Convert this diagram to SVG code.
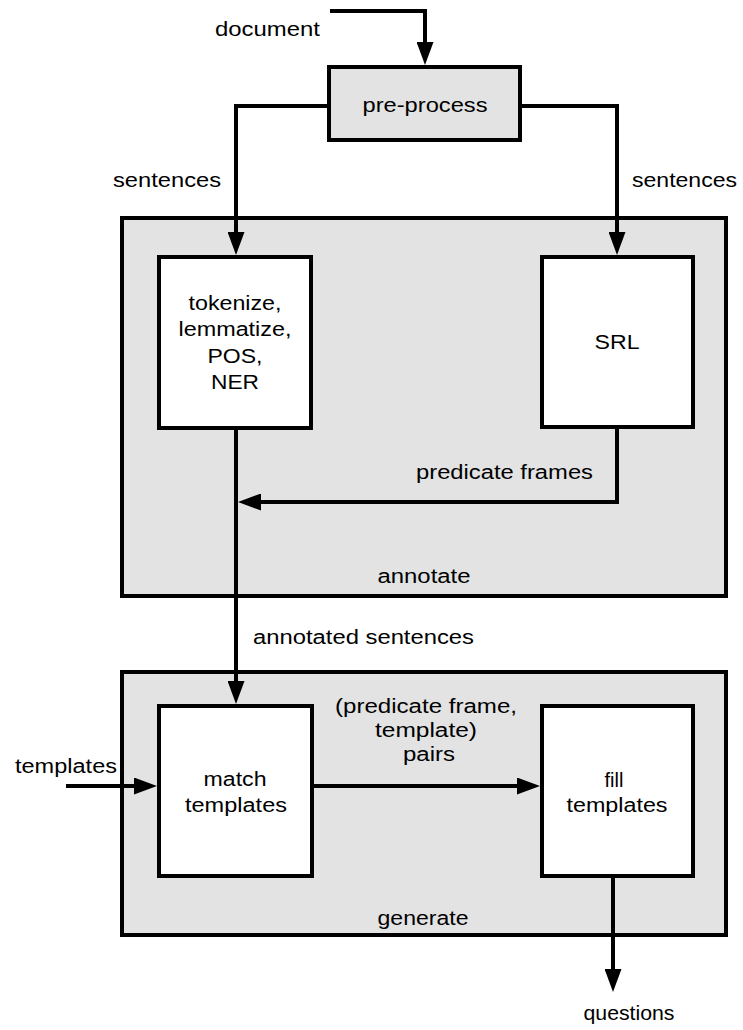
<svg xmlns="http://www.w3.org/2000/svg" width="743" height="1030" viewBox="0 0 743 1030">
<style>
  .grp { fill: #e3e3e3; stroke: #000; stroke-width: 4; }
  .box { fill: #ffffff; stroke: #000; stroke-width: 4; }
  .gbox { fill: #e3e3e3; stroke: #000; stroke-width: 4; }
  .conn { fill: none; stroke: #000; stroke-width: 4; }
  text { font-family: "Liberation Sans", Arial, sans-serif; font-size: 20px; fill: #000; font-variant-ligatures: none; }
  .c { text-anchor: middle; }
</style>
<defs>
  <marker id="arr" markerUnits="userSpaceOnUse" viewBox="0 0 23 17" markerWidth="23" markerHeight="17" refX="13" refY="8.5" orient="auto">
    <path d="M0,0 L23,8.5 L0,17 z" fill="#000"/>
  </marker>
</defs>
<rect width="743" height="1030" fill="#ffffff"/>

<g id="annotate">
  <rect class="grp" x="122" y="218" width="604" height="378"/>
  <text class="c" x="424" y="583" textLength="93" lengthAdjust="spacingAndGlyphs">annotate</text>
</g>
<g id="generate">
  <rect class="grp" x="122" y="672" width="604" height="263"/>
  <text class="c" x="423" y="925" textLength="91" lengthAdjust="spacingAndGlyphs">generate</text>
</g>

<g id="connectors">
  <path class="conn" d="M330,11 H425 V55" marker-end="url(#arr)"/>
  <path class="conn" d="M329,106 H236 V245" marker-end="url(#arr)"/>
  <path class="conn" d="M520,106 H617 V245" marker-end="url(#arr)"/>
  <path class="conn" d="M617,427 V504"/>
  <path class="conn" d="M615,502 H248" marker-end="url(#arr)"/>
  <path class="conn" d="M236,428 V694" marker-end="url(#arr)"/>
  <path class="conn" d="M66,786 H147" marker-end="url(#arr)"/>
  <path class="conn" d="M312,786 H530" marker-end="url(#arr)"/>
  <path class="conn" d="M613,876 V982" marker-end="url(#arr)"/>
</g>

<g id="pre-process">
  <rect class="gbox" x="329" y="67" width="191" height="73"/>
  <text class="c" x="425" y="112" textLength="125" lengthAdjust="spacingAndGlyphs">pre-process</text>
</g>
<g id="tokenize">
  <rect class="box" x="159" y="257" width="152" height="171"/>
  <text class="c" x="235" y="310" textLength="93" lengthAdjust="spacingAndGlyphs">tokenize,</text>
  <text class="c" x="235" y="336" textLength="113" lengthAdjust="spacingAndGlyphs">lemmatize,</text>
  <text class="c" x="235" y="363" textLength="55" lengthAdjust="spacingAndGlyphs">POS,</text>
  <text class="c" x="235" y="389" textLength="48" lengthAdjust="spacingAndGlyphs">NER</text>
</g>
<g id="srl">
  <rect class="box" x="542" y="257" width="151" height="170"/>
  <text class="c" x="617" y="349" textLength="45" lengthAdjust="spacingAndGlyphs">SRL</text>
</g>
<g id="match-templates">
  <rect class="box" x="159" y="706" width="153" height="170"/>
  <text class="c" x="235" y="786" textLength="63" lengthAdjust="spacingAndGlyphs">match</text>
  <text class="c" x="236" y="812" textLength="102" lengthAdjust="spacingAndGlyphs">templates</text>
</g>
<g id="fill-templates">
  <rect class="box" x="542" y="706" width="151" height="170"/>
  <text class="c" x="614" y="787">fill</text>
  <text class="c" x="617" y="812" textLength="101" lengthAdjust="spacingAndGlyphs">templates</text>
</g>

<g id="labels">
  <text x="215" y="36" textLength="105" lengthAdjust="spacingAndGlyphs">document</text>
  <text x="113" y="187" textLength="108" lengthAdjust="spacingAndGlyphs">sentences</text>
  <text x="632" y="187" textLength="105" lengthAdjust="spacingAndGlyphs">sentences</text>
  <text x="416" y="479" textLength="177" lengthAdjust="spacingAndGlyphs">predicate frames</text>
  <text x="253" y="644" textLength="221" lengthAdjust="spacingAndGlyphs">annotated sentences</text>
  <text class="c" x="426" y="713" textLength="182" lengthAdjust="spacingAndGlyphs">(predicate frame,</text>
  <text class="c" x="426" y="737" textLength="102" lengthAdjust="spacingAndGlyphs">template)</text>
  <text class="c" x="429" y="761" textLength="52" lengthAdjust="spacingAndGlyphs">pairs</text>
  <text x="15" y="773" textLength="102" lengthAdjust="spacingAndGlyphs">templates</text>
  <text class="c" x="629" y="1020" textLength="91" lengthAdjust="spacingAndGlyphs">questions</text>
</g>
</svg>
